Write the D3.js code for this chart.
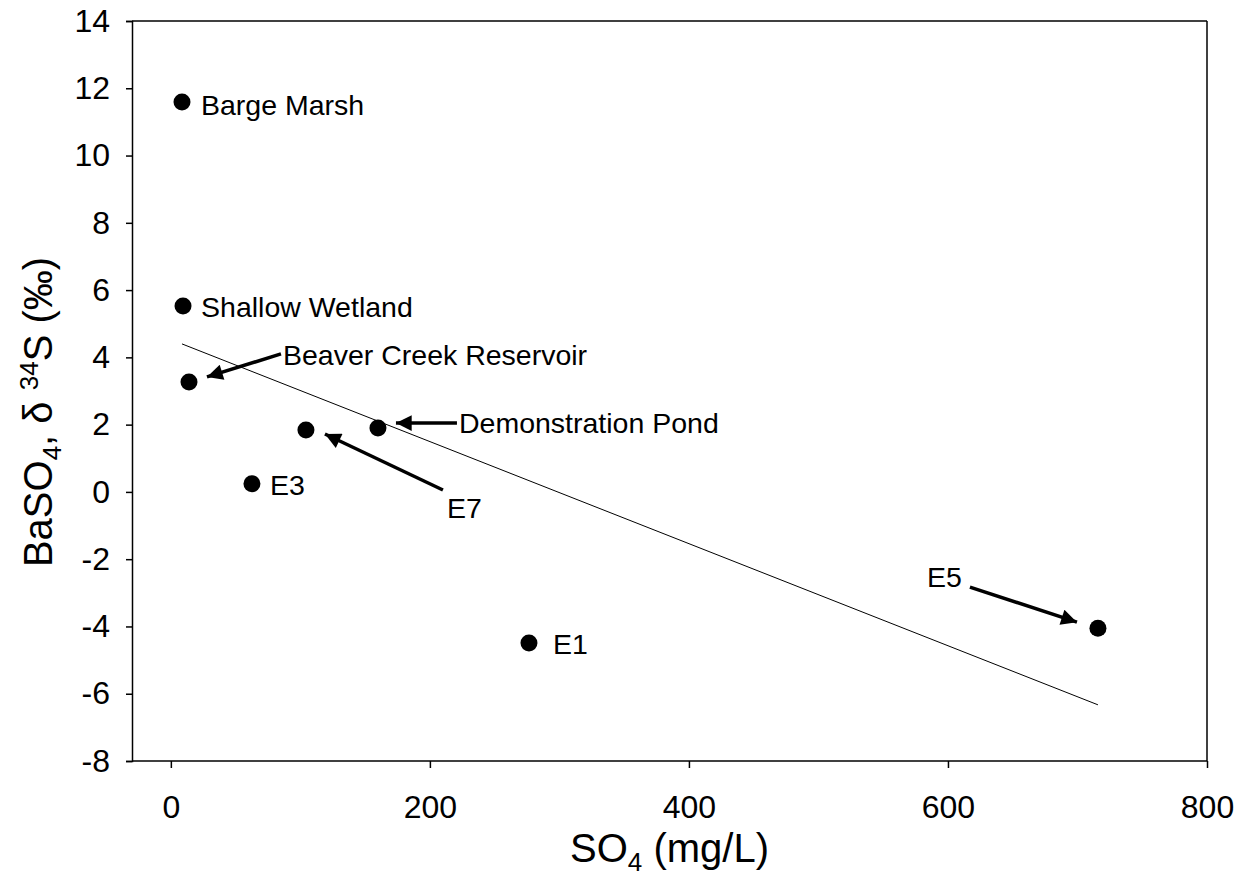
<!DOCTYPE html>
<html>
<head>
<meta charset="utf-8">
<script src="https://cdn.jsdelivr.net/npm/d3@7"></script>
<style>
  html, body { margin: 0; padding: 0; background: #fff; }
  svg { display: block; font-family: "Liberation Sans", Arial, sans-serif; }
</style>
</head>
<body>
<svg id="chart" width="1247" height="879"></svg>
<script>
// ---- data ----
const sites   = ["Barge Marsh", "Shallow Wetland", "Beaver Creek Reservoir", "E7", "Demonstration Pond", "E3", "E1", "E5"];
const so4     = [8.6, 9.4, 14.0, 104.3, 159.9, 62.6, 276.5, 715.8];
const d34S    = [11.59, 5.53, 3.27, 1.84, 1.90, 0.24, -4.49, -4.05];
const trendX  = [8.6, 715.8];
const trendY  = [4.40, -6.33];
const xTicks  = [0, 200, 400, 600, 800];
const yTicks  = [-8, -6, -4, -2, 0, 2, 4, 6, 8, 10, 12, 14];

// ---- layout ----
const W = 1247, H = 879;
const m = { left: 132, right: 40, top: 21, bottom: 118 };
const svg = d3.select("#chart");

const x = d3.scaleLinear().domain([-30, 800]).range([m.left, W - m.right]);
const y = d3.scaleLinear().domain([-8, 14]).range([H - m.bottom, m.top]);
const fmt = v => String(v); // plain hyphen-minus like the reference

// frame: top and right border
svg.append("line").attr("x1", x(-30)).attr("x2", x(800)).attr("y1", y(14)).attr("y2", y(14))
  .attr("stroke", "#000").attr("stroke-width", 1.5);
svg.append("line").attr("x1", x(800)).attr("x2", x(800)).attr("y1", y(14)).attr("y2", y(-8))
  .attr("stroke", "#000").attr("stroke-width", 1.5);

// axes
const xAxis = svg.append("g").attr("transform", `translate(0,${y(-8)})`)
  .call(d3.axisBottom(x).tickValues(xTicks).tickFormat(fmt).tickSizeOuter(0).tickSize(7).tickPadding(27));
const yAxis = svg.append("g").attr("transform", `translate(${x(-30)},0)`)
  .call(d3.axisLeft(y).tickValues(yTicks).tickFormat(fmt).tickSizeOuter(0).tickSize(6).tickPadding(16));

[xAxis, yAxis].forEach(g => {
  g.select(".domain").attr("stroke", "#000").attr("stroke-width", 1.5);
  g.selectAll(".tick line").attr("stroke", "#000").attr("stroke-width", 1.5);
  g.selectAll(".tick text").attr("fill", "#000").attr("font-size", 32)
    .attr("font-family", "'Liberation Sans', Arial, sans-serif");
});
xAxis.select(".domain").attr("d", `M${x(-30)},0H${x(800)}`);

// trend line
svg.append("line")
  .attr("x1", x(trendX[0])).attr("y1", y(trendY[0]))
  .attr("x2", x(trendX[1])).attr("y2", y(trendY[1]))
  .attr("stroke", "#000").attr("stroke-width", 1);

// points
const pts = sites.map((s, i) => ({ name: s, x: so4[i], y: d34S[i] }));
svg.append("g").selectAll("circle").data(pts).join("circle")
  .attr("cx", d => x(d.x)).attr("cy", d => y(d.y)).attr("r", 8.5).attr("fill", "#000");

// annotations (pixel offsets from each point)
const ann = {
  "Barge Marsh":            { tx: 19, ty: 13 },
  "Shallow Wetland":        { tx: 18, ty: 11 },
  "E3":                     { tx: 18, ty: 11 },
  "E1":                     { tx: 24, ty: 11 },
  "Beaver Creek Reservoir": { tx: 94, ty: -17, ax1: 92, ay1: -28, ax2: 18, ay2: -5 },
  "Demonstration Pond":     { tx: 81, ty: 5, ax1: 79, ay1: -5, ax2: 18, ay2: -5 },
  "E7":                     { tx: 141, ty: 88, ax1: 137, ay1: 60, ax2: 19, ay2: 4 },
  "E5":                     { tx: -136, ty: -41, anchor: "end", ax1: -128, ay1: -41, ax2: -21, ay2: -6 }
};

svg.append("defs").append("marker")
  .attr("id", "ah").attr("viewBox", "0 0 10 10").attr("refX", 10).attr("refY", 5)
  .attr("markerWidth", 5.5).attr("markerHeight", 4.5).attr("markerUnits", "strokeWidth")
  .attr("orient", "auto")
  .append("path").attr("d", "M0,0L10,5L0,10z").attr("fill", "#000");

const ag = svg.append("g");
pts.forEach(d => {
  const a = ann[d.name];
  const px = x(d.x), py = y(d.y);
  if (a.ax1 !== undefined) {
    ag.append("line")
      .attr("x1", px + a.ax1).attr("y1", py + a.ay1)
      .attr("x2", px + a.ax2).attr("y2", py + a.ay2)
      .attr("stroke", "#000").attr("stroke-width", 3.5)
      .attr("marker-end", "url(#ah)");
  }
  ag.append("text")
    .attr("x", px + a.tx).attr("y", py + a.ty)
    .attr("text-anchor", a.anchor || "start")
    .attr("font-size", 28.5).attr("fill", "#000")
    .text(d.name);
});

// axis titles
const xt = svg.append("text")
  .attr("x", (x(-30) + x(800)) / 2).attr("y", 862)
  .attr("text-anchor", "middle").attr("font-size", 40).attr("fill", "#000");
xt.append("tspan").text("SO");
xt.append("tspan").attr("font-size", 26).attr("dy", 9).text("4");
xt.append("tspan").attr("dy", -9).text(" (mg/L)");

const yt = svg.append("text")
  .attr("transform", `translate(52,412) rotate(-90)`)
  .attr("text-anchor", "middle").attr("font-size", 40).attr("fill", "#000");
yt.append("tspan").text("BaSO");
yt.append("tspan").attr("font-size", 26).attr("dy", 9).text("4");
yt.append("tspan").attr("dy", -9).text(", δ  ");
yt.append("tspan").attr("font-size", 26).attr("dy", -14).text("34");
yt.append("tspan").attr("dy", 14).text("S (‰)");
</script>
</body>
</html>
